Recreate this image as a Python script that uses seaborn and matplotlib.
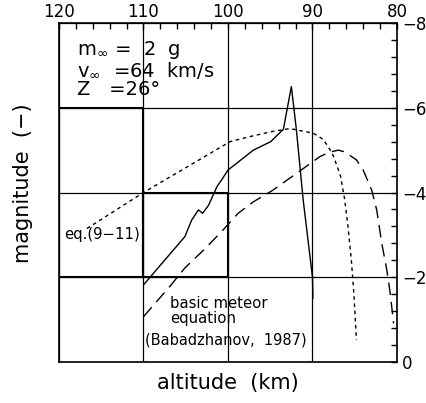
import matplotlib
matplotlib.use("Agg")
import matplotlib.pyplot as plt
from matplotlib.ticker import MultipleLocator
from matplotlib.patches import Rectangle
import seaborn as sns
import pandas as pd

# ---- data (altitude in km, magnitude) ----
model_alt = [110.0, 105.1, 104.3, 103.5, 103.0, 102.3, 101.3, 100.75, 100.0,
             97.0, 94.95, 93.45, 92.5, 91.9, 91.1, 90.0, 89.95]
model_mag = [-1.82, -2.96, -3.35, -3.59, -3.51, -3.70, -4.14, -4.30, -4.53,
             -5.00, -5.20, -5.49, -6.50, -5.47, -3.82, -2.00, -1.50]

eq_alt = [116.7, 110.0, 101.8, 99.76, 97.4, 95.0, 92.7, 89.9, 88.7, 87.9,
          87.5, 86.7, 86.2, 85.8, 85.4, 85.1, 84.8]
eq_mag = [-3.15, -4.00, -4.96, -5.20, -5.32, -5.43, -5.51, -5.40, -5.25, -5.00,
          -4.85, -4.40, -3.85, -3.20, -2.40, -1.60, -0.52]

basic_alt = [110.0, 106.9, 105.1, 102.9, 100.75, 98.8, 97.0, 94.8, 91.9, 89.1,
             88.0, 86.95, 86.2, 84.8, 84.0, 83.0, 82.4, 81.8, 81.2, 80.8, 80.4]
basic_mag = [-1.07, -1.78, -2.22, -2.64, -3.08, -3.51, -3.78, -4.04, -4.45, -4.85,
             -4.95, -5.00, -4.96, -4.77, -4.53, -4.06, -3.59, -2.80, -2.17, -1.62, -0.91]

x_ticks = [120, 110, 100, 90, 80]
y_ticks = [0, -2, -4, -6, -8]

# framed boxes: (alt_left, mag_bottom, width, height)
boxes = [(120, -2, -10, -4), (110, -2, -10, -2)]

sns.set_style("ticks")
plt.rcParams["font.family"] = ["DejaVu Sans"]
plt.rcParams["axes.unicode_minus"] = True
plt.rcParams["text.color"] = "black"
plt.rcParams["axes.labelcolor"] = "black"
plt.rcParams["xtick.color"] = "black"
plt.rcParams["ytick.color"] = "black"

fig = plt.figure(figsize=(4.26, 4.03), dpi=100)
ax = fig.add_axes([0.1385, 0.1017, 0.7934, 0.8412])

df_model = pd.DataFrame({"alt": model_alt, "mag": model_mag})
df_eq = pd.DataFrame({"alt": eq_alt, "mag": eq_mag})
df_basic = pd.DataFrame({"alt": basic_alt, "mag": basic_mag})

sns.lineplot(data=df_model, x="alt", y="mag", ax=ax, color="black", lw=1.0,
             sort=False, estimator=None, legend=False)
sns.lineplot(data=df_eq, x="alt", y="mag", ax=ax, color="black", lw=1.0,
             linestyle=(0, (2.6, 2.6)), sort=False, estimator=None, legend=False)
sns.lineplot(data=df_basic, x="alt", y="mag", ax=ax, color="black", lw=1.0,
             linestyle=(0, (9, 5)), sort=False, estimator=None, legend=False)

ax.set_xlim(120, 80)
ax.set_ylim(0, -8)

ax.xaxis.tick_top()
ax.yaxis.tick_right()
ax.set_xticks(x_ticks)
ax.set_yticks(y_ticks)
ax.xaxis.set_minor_locator(MultipleLocator(2))
ax.yaxis.set_minor_locator(MultipleLocator(0.4))
ax.tick_params(which="both", direction="in", length=4.5, width=1.0, color="black",
               top=True, right=True, bottom=False, left=False)
ax.tick_params(axis="x", labelsize=12, pad=1.5, labelcolor="black")
ax.tick_params(axis="y", labelsize=12, pad=3.5, labelcolor="black")

ax.grid(True, which="major", color="black", lw=0.9)
for s in ax.spines.values():
    s.set_color("black")
    s.set_linewidth(1.2)

for (x0, y0, w, h) in boxes:
    ax.add_patch(Rectangle((x0, y0), w, h, fill=False, ec="black", lw=1.5, zorder=2))

ax.set_xlabel("altitude  (km)", fontsize=15, va="center", color="black")
ax.set_ylabel("magnitude  (\u2212)", fontsize=15, va="center", color="black")
ax.xaxis.set_label_coords(0.5, -0.062)
ax.yaxis.set_label_coords(-0.1065, 0.528)

ax.text(117.87, -7.24, r"m$_\infty$ =  2  g", fontsize=14, va="baseline", color="black")
ax.text(117.87, -6.74, r"v$_\infty$  =64  km/s", fontsize=14, va="baseline", color="black")
ax.text(117.87, -6.30, "Z   =26\u00b0", fontsize=14, va="baseline", color="black")

ax.text(119.4, -3.0, "eq.(9\u221211)", fontsize=10.7, va="center", color="black")
ax.text(106.86, -1.37, "basic meteor", fontsize=10.7, va="center", color="black")
ax.text(106.86, -1.02, "equation", fontsize=10.7, va="center", color="black")
ax.text(109.8, -0.52, "(Babadzhanov,  1987)", fontsize=10.5, va="center", color="black")

fig.savefig("out.png", dpi=100)
